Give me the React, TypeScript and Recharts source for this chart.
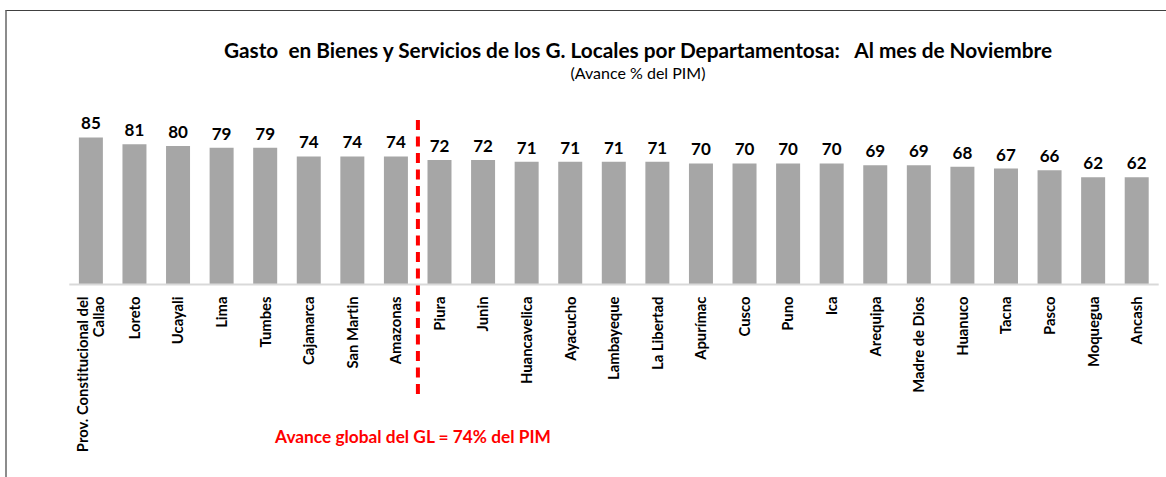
import { BarChart, Bar, XAxis, YAxis, LabelList, ReferenceLine } from "recharts";

const departamentos = [
  "Prov. Constitucional del|Callao",
  "Loreto",
  "Ucayali",
  "Lima",
  "Tumbes",
  "Cajamarca",
  "San Martin",
  "Amazonas",
  "Piura",
  "Junin",
  "Huancavelica",
  "Ayacucho",
  "Lambayeque",
  "La Libertad",
  "Apurímac",
  "Cusco",
  "Puno",
  "Ica",
  "Arequipa",
  "Madre de Dios",
  "Huanuco",
  "Tacna",
  "Pasco",
  "Moquegua",
  "Ancash",
];

const avance = [85, 81, 80, 79, 79, 74, 74, 74, 72, 72, 71, 71, 71, 71, 70, 70, 70, 70, 69, 69, 68, 67, 66, 62, 62];

const titulo = "Gasto  en Bienes y Servicios de los G. Locales por Departamentosa:   Al mes de Noviembre";
const subtitulo = "(Avance % del PIM)";
const nota = "Avance global del GL = 74% del PIM";
const corte = "Piura";

const data = departamentos.map((name, i) => ({ name, value: avance[i] }));

const FONT = "Lato, 'Open Sans', sans-serif";

const DeptTick = (props: any) => {
  const { x, y, payload } = props;
  const lines = String(payload.value).split("|");
  return (
    <g transform={`translate(${x},${y + 4})`}>
      {lines.map((t, i) => (
        <text
          key={i}
          transform="rotate(-90)"
          x={0}
          y={(i - (lines.length - 1) / 2) * 16}
          dy="0.35em"
          textAnchor="end"
          fontSize={14.8}
          fontWeight="bold"
          fill="#000"
          fontFamily={FONT}
        >
          {t}
        </text>
      ))}
    </g>
  );
};

// y1 is the bottom of the plot, y2 the top; the dashed line runs past the axis
const DashedCut = (props: any) => {
  const { x1, y1, y2 } = props;
  const top = Math.min(y1, y2);
  const bottom = Math.max(y1, y2);
  return (
    <line
      x1={x1}
      x2={x1}
      y1={top + 8.5}
      y2={bottom + 114.5}
      stroke="#FF0000"
      strokeWidth={4}
      strokeDasharray="10 6.5"
    />
  );
};

export default function App() {
  return (
    <div
      style={{
        position: "absolute",
        left: 0,
        top: 0,
        width: 1166,
        height: 477,
        background: "#fff",
        fontFamily: FONT,
        fontVariantLigatures: "none",
      }}
    >
      <div
        style={{
          position: "absolute",
          left: 5,
          top: 10,
          right: 0,
          bottom: 0,
          borderLeft: "2px solid #8c8c8c",
          borderTop: "1px solid #404040",
        }}
      />
      <div
        style={{
          position: "absolute",
          left: 0,
          width: 1276,
          top: 37,
          textAlign: "center",
          fontWeight: "bold",
          fontSize: 20.8,
          whiteSpace: "pre",
          color: "#000",
        }}
      >
        {titulo}
      </div>
      <div
        style={{
          position: "absolute",
          left: 0,
          width: 1276,
          top: 63,
          textAlign: "center",
          fontSize: 16,
          color: "#000",
        }}
      >
        {subtitulo}
      </div>
      <div
        style={{
          position: "absolute",
          left: 0,
          width: 826,
          top: 426,
          textAlign: "center",
          fontWeight: "bold",
          fontSize: 17.3,
          color: "#FF0000",
        }}
      >
        {nota}
      </div>
      <div style={{ position: "absolute", left: 0, top: 0 }}>
        <BarChart
          width={1166}
          height={477}
          data={data}
          margin={{ top: 111.5, right: 7.3, bottom: 0, left: 69.3 }}
          barCategoryGap="22%"
        >
          <XAxis
            dataKey="name"
            interval={0}
            height={192.5}
            tickLine={false}
            axisLine={{ stroke: "#D9D9D9", strokeWidth: 2 }}
            tick={<DeptTick />}
          />
          <YAxis hide domain={[0, 100]} />
          <ReferenceLine x={corte} position="start" shape={<DashedCut />} />
          <Bar dataKey="value" fill="#A6A6A6" isAnimationActive={false}>
            <LabelList
              dataKey="value"
              position="top"
              offset={8}
              fontSize={17}
              fontWeight="bold"
              fill="#000"
              fontFamily={FONT}
            />
          </Bar>
        </BarChart>
      </div>
    </div>
  );
}
